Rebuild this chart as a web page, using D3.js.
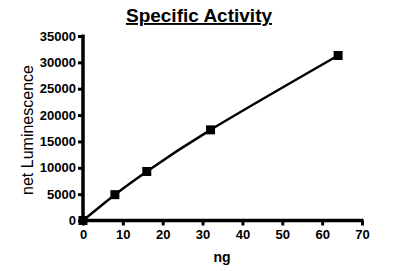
<!DOCTYPE html>
<html><head><meta charset="utf-8">
<script src="https://cdn.jsdelivr.net/npm/d3@7"></script>
<style>
html,body{margin:0;padding:0;background:#fff;}
svg{display:block;font-family:"Liberation Sans",Arial,sans-serif;}
</style></head><body>
<svg id="c" width="393" height="271"></svg>
<script>
const xValues = [0, 8, 16, 32, 64];
const yValues = [0, 4900, 9300, 17200, 31300];
const xTicks = [0, 10, 20, 30, 40, 50, 60, 70];
const yTicks = [0, 5000, 10000, 15000, 20000, 25000, 30000, 35000];
const title = "Specific Activity";
const xLabel = "ng";
const yLabel = "net Luminescence";

const svg = d3.select("#c");
const x = d3.scaleLinear().domain([0, 70]).range([83, 362]);
const y = d3.scaleLinear().domain([0, 35000]).range([220.5, 36]);

const data = xValues.map((d, i) => ({x: d, y: yValues[i]}));

// curve
svg.append("path")
  .datum(data)
  .attr("fill", "none")
  .attr("stroke", "#000")
  .attr("stroke-width", 2.5)
  .attr("d", d3.line().x(d => x(d.x)).y(d => y(d.y)).curve(d3.curveNatural));

// axes
const xAxis = svg.append("g").attr("transform", "translate(0,220.5)")
  .call(d3.axisBottom(x).tickValues(xTicks).tickSize(5).tickPadding(4).tickFormat(d3.format("d")));
const yAxis = svg.append("g").attr("transform", "translate(83,0)")
  .call(d3.axisLeft(y).tickValues(yTicks).tickSize(5).tickPadding(2).tickFormat(d3.format("d")));
[xAxis, yAxis].forEach(a => {
  a.selectAll(".tick line").attr("stroke", "#000").attr("stroke-width", 3);
  a.selectAll(".tick text").attr("fill", "#000")
    .style("font-family", "'Liberation Sans',Arial,sans-serif")
    .style("font-size", "13px").style("font-weight", "bold");
});
xAxis.select(".domain").remove();
yAxis.select(".domain").remove();
svg.append("line").attr("x1", x(0)).attr("x2", x(70) + 1.5).attr("y1", y(0)).attr("y2", y(0))
  .attr("stroke", "#000").attr("stroke-width", 3.5);
svg.append("line").attr("x1", x(0)).attr("x2", x(0)).attr("y1", y(0) + 1.5).attr("y2", y(35000) - 1.5)
  .attr("stroke", "#000").attr("stroke-width", 3.5);

// markers
svg.selectAll("rect.pt").data(data).enter().append("rect")
  .attr("class", "pt")
  .attr("x", d => x(d.x) - 4.5).attr("y", d => y(d.y) - 4.5)
  .attr("width", 9).attr("height", 9).attr("fill", "#000");

// titles
svg.append("text").attr("x", 199).attr("y", 22).attr("text-anchor", "middle")
  .style("font-size", "19px").style("font-weight", "bold")
  .style("text-decoration", "underline").text(title);
svg.append("text").attr("x", 222).attr("y", 262).attr("text-anchor", "middle")
  .style("font-size", "14px").style("font-weight", "bold").text(xLabel);
svg.append("text").attr("transform", "translate(33,130) rotate(-90)").attr("text-anchor", "middle")
  .style("font-size", "16px").text(yLabel);
</script>
</body></html>
